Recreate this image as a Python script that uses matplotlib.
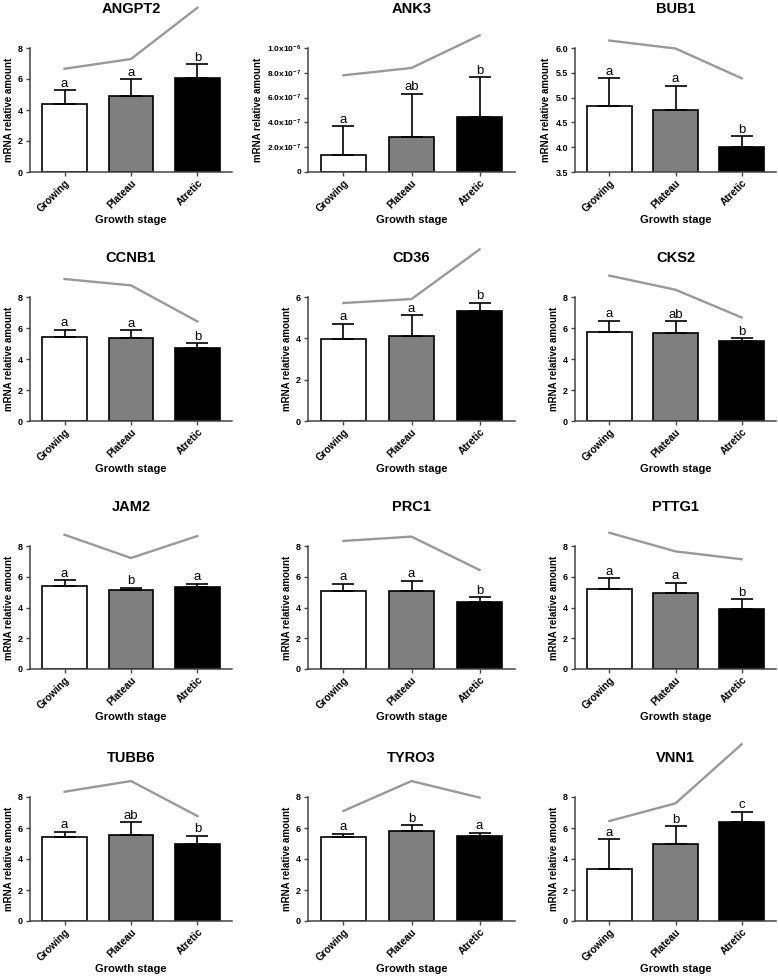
import matplotlib
matplotlib.use("Agg")
import matplotlib.pyplot as plt
import numpy as np

plt.rcParams['font.family'] = ['Liberation Sans', 'DejaVu Sans']
plt.rcParams['mathtext.fontset'] = 'custom'
plt.rcParams['mathtext.rm'] = 'Liberation Sans:bold'
plt.rcParams['mathtext.bf'] = 'Liberation Sans:bold'
plt.rcParams['mathtext.default'] = 'bf'

# ---------------- data ----------------
genes = ["ANGPT2", "ANK3", "BUB1", "CCNB1", "CD36", "CKS2",
         "JAM2", "PRC1", "PTTG1", "TUBB6", "TYRO3", "VNN1"]
stages = ["Growing", "Plateau", "Atretic"]

mean_growing = [4.39, 1.34e-7, 4.84, 5.39, 3.96, 5.76, 5.39, 5.06, 5.22, 5.44, 5.44, 3.38]
mean_plateau = [4.93, 2.82e-7, 4.75, 5.34, 4.09, 5.65, 5.11, 5.06, 4.94, 5.55, 5.81, 4.95]
mean_atretic = [6.05, 4.41e-7, 4.01, 4.74, 5.32, 5.13, 5.35, 4.36, 3.88, 4.95, 5.48, 6.37]

err_growing = [0.89, 2.34e-7, 0.55, 0.49, 0.75, 0.71, 0.37, 0.50, 0.67, 0.32, 0.19, 1.91]
err_plateau = [1.06, 3.50e-7, 0.49, 0.50, 1.02, 0.78, 0.19, 0.69, 0.67, 0.82, 0.38, 1.16]
err_atretic = [0.91, 3.25e-7, 0.21, 0.28, 0.41, 0.20, 0.21, 0.30, 0.67, 0.56, 0.20, 0.68]

line_growing = [6.66, 7.80e-7, 6.15, 9.16, 5.71, 9.38, 8.73, 8.33, 8.86, 8.34, 7.10, 6.45]
line_plateau = [7.29, 8.39e-7, 5.99, 8.75, 5.90, 8.47, 7.22, 8.61, 7.65, 9.03, 9.03, 7.59]
line_atretic = [10.60, 1.102e-6, 5.39, 6.42, 8.30, 6.68, 8.65, 6.44, 7.14, 6.77, 7.96, 11.40]

letters_growing = ["a", "a", "a", "a", "a", "a", "a", "a", "a", "a", "a", "a"]
letters_plateau = ["a", "ab", "a", "a", "a", "ab", "b", "a", "a", "ab", "b", "b"]
letters_atretic = ["b", "b", "b", "b", "b", "b", "a", "b", "b", "b", "a", "c"]

y_min = [0, 0, 3.5, 0, 0, 0, 0, 0, 0, 0, 0, 0]
y_max = [8, 1e-6, 6.0, 8, 6, 8, 8, 8, 8, 8, 8, 8]
y_step = [2, 2e-7, 0.5, 2, 2, 2, 2, 2, 2, 2, 2, 2]
ank3_ticklabels = ["0", r"2.0x10$^{-7}$", r"4.0x10$^{-7}$", r"6.0x10$^{-7}$",
                   r"8.0x10$^{-7}$", r"1.0x10$^{-6}$"]

bar_colors = ["white", "#7f7f7f", "black"]

# ---------------- layout ----------------
W, H = 778, 976
cols = [(30, 232), (308, 515), (575, 776)]
rows = [(48, 172), (297, 421), (546, 669), (797, 921)]

fig = plt.figure(figsize=(W / 100, H / 100), dpi=100)
x = np.arange(3)

for i, gene in enumerate(genes):
    r, c = divmod(i, 3)
    left, right = cols[c]
    top, bottom = rows[r]
    ax = fig.add_axes([left / W, 1 - bottom / H, (right - left) / W, (bottom - top) / H])

    means = [mean_growing[i], mean_plateau[i], mean_atretic[i]]
    errs = [err_growing[i], err_plateau[i], err_atretic[i]]
    line = [line_growing[i], line_plateau[i], line_atretic[i]]
    lets = [letters_growing[i], letters_plateau[i], letters_atretic[i]]

    ax.bar(x, means, width=0.67, color=bar_colors, edgecolor="black",
           linewidth=1.2, zorder=2)
    ax.errorbar(x, means, yerr=[[0, 0, 0], errs], fmt="none", ecolor="black",
                elinewidth=1.2, capsize=8, capthick=1.2, zorder=3)
    ax.plot(x, line, color="#999999", linewidth=1.7, clip_on=False, zorder=4)

    for xi, m, e, t in zip(x, means, errs, lets):
        ax.annotate(t, (xi, m + e), xytext=(0, 2.5), textcoords="offset points",
                    ha="center", va="baseline", fontsize=9.5, color="black")

    ax.set_xlim(-0.52, 2.52)
    ax.set_ylim(y_min[i], y_max[i])
    ticks = np.arange(y_min[i], y_max[i] + y_step[i] * 0.5, y_step[i])
    ax.set_yticks(ticks)
    if gene == "ANK3":
        ax.set_yticklabels(ank3_ticklabels)
    elif gene == "BUB1":
        ax.set_yticklabels([f"{t:.1f}" for t in ticks])
    else:
        ax.set_yticklabels([f"{t:.0f}" for t in ticks])

    ax.set_xticks(x)
    ax.set_xticklabels(stages, rotation=45, ha="right", rotation_mode="anchor",
                       fontsize=7.3, fontweight="bold")
    for lab in ax.get_yticklabels():
        lab.set_fontweight("bold")
        lab.set_fontsize(6.5 if gene != "ANK3" else 6)

    for s in ["top", "right"]:
        ax.spines[s].set_visible(False)
    for s in ["left", "bottom"]:
        ax.spines[s].set_color("#444444")
        ax.spines[s].set_linewidth(1.1)
    ax.tick_params(axis="y", direction="out", length=3, width=1,
                   color="#444444", pad=2)
    ax.tick_params(axis="x", direction="out", length=3, width=1,
                   color="#444444", pad=1)

    ax.set_xlabel("Growth stage", fontsize=8, fontweight="bold", va="center")
    ax.xaxis.set_label_coords(0.5, -48 / (bottom - top))
    ax.set_ylabel("mRNA relative amount", fontsize=7, fontweight="bold", labelpad=3)
    ax.set_title(gene, fontsize=10.5, fontweight="bold", pad=25)

fig.savefig("out.png", dpi=100)
